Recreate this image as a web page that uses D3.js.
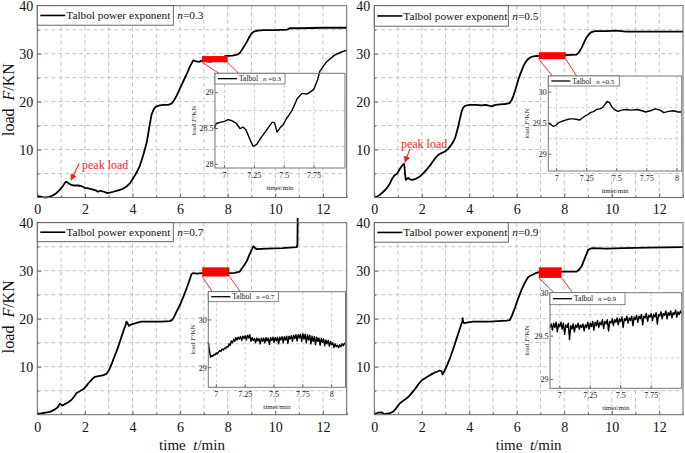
<!DOCTYPE html>
<html><head><meta charset="utf-8">
<script src="https://cdn.jsdelivr.net/npm/d3@7"></script>
<style>
body{margin:0;background:#fff}
svg{display:block}
text{font-family:"Liberation Serif","Times New Roman",serif}
</style>
</head><body>
<svg id="c" width="685" height="453"></svg>
<script>
// ---------------- DATA ----------------
const exponents = ["0.3", "0.5", "0.7", "0.9"];
const xTicks = [0, 2, 4, 6, 8, 10, 12];
const xMinor = [1, 3, 5, 7, 9, 11, 13];
const yTicks = [10, 20, 30, 40];
const yMinor = [5, 15, 25, 35];

// main curves (time / min, load / kN)
const main03T = [0,0.15,0.3,0.45,0.6,0.75,0.9,1.05,1.15,1.22,1.3,1.4,1.55,1.7,1.85,2.0,2.15,2.3,2.45,2.55,2.65,2.8,2.95,3.05,3.2,3.4,3.6,3.75,3.9,4.0,4.15,4.3,4.45,4.6,4.7,4.8,4.9,5.0,5.15,5.3,5.5,5.65,5.75,5.85,6.0,6.15,6.3,6.42,6.55,6.62,6.7,6.8,6.92,7.05,7.2,7.3,7.45,7.6,7.75,7.9,8.0,8.2,8.4,8.5,8.6,8.7,8.8,8.9,9.0,9.1,9.25,9.5,10.0,10.5,10.6,11.0,12.0,13.0];
const main03F = [0.3,0.2,0.0,0.05,0.3,0.7,1.4,2.2,3.0,3.3,3.0,2.7,2.5,2.5,2.4,2.0,1.9,1.7,1.5,1.2,1.4,1.2,0.9,1.0,1.2,1.5,1.8,2.3,3.0,3.8,5.0,6.5,8.8,11.5,14.5,17.3,18.5,19.0,19.2,19.3,19.3,19.6,20.3,21.2,22.8,24.4,26.0,27.4,28.6,28.5,28.4,28.3,28.55,28.6,28.35,28.35,28.5,28.9,29.1,29.5,29.55,29.6,29.8,30.1,30.8,31.6,32.4,33.4,34.2,34.6,34.8,34.9,34.9,35.0,35.3,35.3,35.4,35.4];

const main05T = [0,0.12,0.24,0.38,0.52,0.63,0.73,0.8,0.87,0.95,1.0,1.08,1.15,1.22,1.26,1.28,1.3,1.33,1.38,1.43,1.5,1.6,1.75,1.92,2.05,2.2,2.35,2.48,2.6,2.7,2.85,2.98,3.1,3.2,3.3,3.4,3.47,3.54,3.61,3.68,3.75,3.82,4.0,4.3,4.5,4.7,4.94,5.1,5.3,5.5,5.7,5.78,5.86,5.96,6.06,6.16,6.27,6.38,6.48,6.6,6.7,6.85,6.95,7.4,8.0,8.3,8.52,8.62,8.73,8.85,8.94,9.05,9.15,9.3,9.8,10.2,10.6,11.5,13.0];
const main05F = [0,0.2,0.6,1.2,1.9,2.7,3.7,4.3,4.7,4.9,5.3,6.0,6.5,6.9,7.0,6.0,4.6,3.7,3.9,4.1,3.8,3.7,3.9,4.4,5.0,5.8,6.7,7.6,8.4,8.9,9.3,9.6,10.1,10.7,11.4,12.4,13.6,14.9,16.5,18.0,18.8,19.1,19.3,19.3,19.2,19.3,19.0,19.3,19.4,19.5,19.7,20.3,21.2,22.8,24.5,25.9,27.3,28.3,28.9,29.3,29.45,29.55,29.5,29.8,29.7,29.75,29.8,30.3,31.2,32.5,33.4,34.1,34.5,34.7,34.7,34.8,34.6,34.6,34.6];

const main07T = [0,0.18,0.35,0.53,0.7,0.85,0.95,1.0,1.06,1.15,1.23,1.33,1.44,1.55,1.65,1.78,1.93,2.05,2.14,2.25,2.35,2.42,2.52,2.63,2.75,2.9,3.0,3.05,3.15,3.25,3.33,3.43,3.52,3.61,3.7,3.75,3.8,3.85,3.9,4.03,4.2,4.38,4.6,4.87,5.2,5.57,5.68,5.78,5.88,6.0,6.13,6.27,6.38,6.48,6.55,6.7,6.93,7.5,8.1,8.3,8.5,8.6,8.7,8.8,8.9,9.0,9.08,9.15,9.22,9.64,10.3,10.9,10.93,10.94];
const main07F = [0.1,0.3,0.45,0.6,1.0,1.5,2.3,2.1,1.9,2.2,2.4,2.7,3.1,3.8,4.5,4.9,5.3,5.9,6.5,7.1,7.6,7.9,8.0,8.1,8.2,8.5,9.2,9.7,10.9,12.2,13.2,14.6,16.0,17.3,18.6,19.4,19.0,18.5,18.7,18.9,19.2,19.4,19.4,19.4,19.4,19.5,19.8,20.7,21.8,22.9,24.5,26.3,27.8,29.3,29.5,29.4,29.5,29.55,29.5,29.55,29.8,30.5,31.2,32.0,33.2,34.3,35.1,34.7,34.5,34.6,34.7,34.9,35.5,41.0];

const main09T = [0,0.1,0.17,0.31,0.4,0.45,0.55,0.66,0.78,0.87,0.97,1.08,1.22,1.36,1.47,1.57,1.68,1.78,1.88,1.99,2.1,2.27,2.4,2.55,2.66,2.76,2.83,2.88,2.93,2.98,3.08,3.19,3.33,3.47,3.58,3.68,3.71,3.72,3.74,3.78,4.0,4.17,4.5,4.87,5.2,5.57,5.71,5.8,5.92,6.05,6.2,6.34,6.48,6.6,6.69,6.8,6.93,7.5,7.9,8.2,8.52,8.62,8.73,8.85,9.0,9.1,9.22,9.78,10.48,11.5,13.0];
const main09F = [0.05,0.3,0.45,0.5,0.2,0.1,0.2,0.3,0.6,1.0,1.7,2.4,2.9,3.4,3.9,4.5,5.1,5.8,6.5,7.1,7.5,8.0,8.4,8.8,9.0,9.2,9.1,8.4,8.9,9.4,10.5,11.8,13.8,15.9,17.6,19.1,19.4,20.1,19.3,19.1,19.3,19.4,19.4,19.4,19.5,19.6,19.7,20.7,22.2,24.1,26.0,27.5,28.7,29.0,29.2,29.5,29.7,29.75,29.8,29.8,29.8,30.2,30.9,32.4,34.3,34.6,34.7,34.6,34.7,34.8,34.9];

// zoomed windows (inset curves)
const ins03T = [6.915,6.93,6.97,7.0,7.03,7.06,7.1,7.13,7.155,7.18,7.21,7.24,7.27,7.3,7.34,7.37,7.4,7.42,7.44,7.47,7.49,7.52,7.565,7.61,7.65,7.69,7.72,7.75,7.78,7.8,7.85,7.92,7.97,8.02];
const ins03F = [28.5,28.57,28.59,28.6,28.625,28.61,28.57,28.5,28.52,28.48,28.36,28.25,28.28,28.36,28.45,28.52,28.59,28.58,28.45,28.52,28.55,28.64,28.75,28.92,28.99,28.98,29.01,29.05,29.18,29.3,29.42,29.52,29.56,29.59];

const ins05T = [6.93,6.95,6.97,6.99,7.01,7.03,7.06,7.09,7.11,7.14,7.17,7.19,7.21,7.24,7.26,7.28,7.31,7.33,7.36,7.38,7.4,7.42,7.44,7.46,7.48,7.51,7.54,7.58,7.62,7.67,7.71,7.74,7.78,7.82,7.86,7.89,7.93,7.97,8.01,8.04];
const ins05F = [29.5,29.48,29.45,29.46,29.5,29.52,29.54,29.56,29.57,29.57,29.56,29.55,29.58,29.62,29.64,29.67,29.69,29.72,29.73,29.75,29.8,29.85,29.83,29.76,29.72,29.69,29.71,29.72,29.71,29.72,29.7,29.68,29.7,29.73,29.71,29.67,29.69,29.7,29.68,29.68];

const ins07T = [6.93,6.94,6.95,6.96,6.97,6.98,6.99,7.0,7.01,7.02,7.03,7.04,7.05,7.06,7.07,7.08,7.09,7.1,7.11,7.12,7.13,7.14,7.15,7.16,7.17,7.18,7.19,7.2,7.21,7.22,7.23,7.24,7.25,7.26,7.27,7.28,7.29,7.3,7.31,7.32,7.33,7.34,7.35,7.36,7.37,7.38,7.39,7.4,7.41,7.42,7.43,7.44,7.45,7.46,7.47,7.48,7.49,7.5,7.51,7.52,7.53,7.54,7.55,7.56,7.57,7.58,7.59,7.6,7.61,7.62,7.63,7.64,7.65,7.66,7.67,7.68,7.69,7.7,7.71,7.72,7.73,7.74,7.75,7.76,7.77,7.78,7.79,7.8,7.81,7.82,7.83,7.84,7.85,7.86,7.87,7.88,7.89,7.9,7.91,7.92,7.93,7.94,7.95,7.96,7.97,7.98,7.99,8.0,8.01,8.02,8.03,8.04,8.05,8.06,8.07,8.08,8.09,8.1,8.11,8.12];
const ins07F = [29.53,29.35,29.22,29.25,29.24,29.28,29.27,29.31,29.29,29.33,29.36,29.34,29.39,29.37,29.41,29.40,29.44,29.43,29.50,29.47,29.56,29.52,29.60,29.55,29.63,29.58,29.64,29.60,29.65,29.57,29.66,29.61,29.67,29.58,29.68,29.62,29.69,29.55,29.63,29.57,29.61,29.52,29.62,29.56,29.61,29.50,29.62,29.55,29.62,29.52,29.63,29.56,29.62,29.49,29.63,29.57,29.64,29.53,29.63,29.56,29.64,29.50,29.64,29.58,29.65,29.52,29.65,29.58,29.66,29.51,29.66,29.60,29.67,29.55,29.68,29.61,29.69,29.56,29.69,29.62,29.70,29.55,29.71,29.60,29.70,29.52,29.69,29.58,29.68,29.50,29.66,29.55,29.65,29.48,29.64,29.55,29.62,29.47,29.61,29.53,29.60,29.46,29.58,29.50,29.57,29.45,29.55,29.48,29.52,29.42,29.50,29.44,29.47,29.42,29.48,29.44,29.50,29.46,29.51,29.49];

const ins09T = [6.92,6.93,6.94,6.95,6.96,6.97,6.98,6.99,7.0,7.01,7.02,7.03,7.04,7.05,7.06,7.07,7.08,7.09,7.1,7.11,7.12,7.13,7.14,7.15,7.16,7.17,7.18,7.19,7.2,7.21,7.22,7.23,7.24,7.25,7.26,7.27,7.28,7.29,7.3,7.31,7.32,7.33,7.34,7.35,7.36,7.37,7.38,7.39,7.4,7.41,7.42,7.43,7.44,7.45,7.46,7.47,7.48,7.49,7.5,7.51,7.52,7.53,7.54,7.55,7.56,7.57,7.58,7.59,7.6,7.61,7.62,7.63,7.64,7.65,7.66,7.67,7.68,7.69,7.7,7.71,7.72,7.73,7.74,7.75,7.76,7.77,7.78,7.79,7.8,7.81,7.82,7.83,7.84,7.85,7.86,7.87,7.88,7.89,7.9,7.91,7.92,7.93,7.94,7.95,7.96,7.97,7.98,7.99,8.0];
const ins09F = [29.60,29.64,29.57,29.65,29.60,29.66,29.55,29.64,29.61,29.66,29.58,29.65,29.52,29.63,29.60,29.65,29.46,29.62,29.58,29.64,29.55,29.63,29.60,29.65,29.58,29.63,29.60,29.64,29.56,29.63,29.60,29.66,29.58,29.65,29.61,29.67,29.57,29.66,29.62,29.68,29.60,29.66,29.63,29.69,29.59,29.67,29.64,29.69,29.56,29.67,29.65,29.70,29.62,29.69,29.66,29.71,29.63,29.70,29.67,29.72,29.60,29.70,29.68,29.73,29.65,29.71,29.68,29.73,29.62,29.72,29.69,29.74,29.66,29.73,29.70,29.75,29.63,29.73,29.71,29.76,29.67,29.74,29.72,29.76,29.68,29.75,29.72,29.77,29.64,29.75,29.73,29.78,29.70,29.76,29.74,29.79,29.70,29.77,29.74,29.79,29.71,29.77,29.75,29.80,29.72,29.78,29.75,29.79,29.76];

// zoom window rectangles [t0, t1, F0, F1]
const zoomWindows = [[6.92, 8.0, 28.2, 29.5], [6.93, 8.06, 28.85, 30.3], [6.93, 8.07, 28.8, 30.7], [6.93, 7.89, 28.5, 30.7]];
// inset axes domains and ticks
const insetXDomain = [[6.92, 8.01], [6.93, 8.04], [6.93, 8.12], [6.92, 8.0]];
const insetYDomain = [[27.95, 29.27], [28.73, 30.26], [28.59, 30.59], [28.9, 30.0]];
const insetXTicks = [[7, 7.25, 7.5, 7.75], [7, 7.25, 7.5, 7.75, 8], [7, 7.25, 7.5, 7.75, 8], [7, 7.25, 7.5, 7.75]];
const insetYTicks = [[28, 28.5, 29], [29, 29.5, 30], [29, 30], [29, 29.5, 30]];
const insetYGrid = [[28.25, 28.75], [29.25, 29.75], [29.5], [29.25, 29.75]];
// peak load annotation [textT, textF, arrowFromT, arrowFromF, arrowToT, arrowToF]
const peakNotes = [[1.88, 5.95, 1.76, 7.1, 1.42, 3.65], [1.12, 10.3, 1.5, 10.1, 1.29, 7.35], null, null];

const mains = [[main03T, main03F], [main05T, main05F], [main07T, main07F], [main09T, main09F]];
const insets = [[ins03T, ins03F], [ins05T, ins05F], [ins07T, ins07F], [ins09T, ins09F]];

// ---------------- LAYOUT ----------------
const layout = [
  {x0: 37.3, x1: 346.7, y0: 5.7, y1: 197.5, ix0: 215, ix1: 345, iy0: 73.3, iy1: 168, legW: 136, legH: 19.5, ylab: true, xlab: false, iyOff: 19, ilegW: 70, ilegH: 10.7},
  {x0: 374.3, x1: 683, y0: 5.7, y1: 197.5, ix0: 548.3, ix1: 681.7, iy0: 76, iy1: 171, legW: 134, legH: 20.5, ylab: false, xlab: false, iyOff: 19, ilegW: 71, ilegH: 10},
  {x0: 37.3, x1: 346.7, y0: 222.7, y1: 414.7, ix0: 208.3, ix1: 345.5, iy0: 291.7, iy1: 387.3, legW: 136, legH: 19, ylab: true, xlab: true, iyOff: 13, ilegW: 70, ilegH: 10},
  {x0: 374.3, x1: 683, y0: 222.7, y1: 414.7, ix0: 550, ix1: 681.7, iy0: 292.7, iy1: 388.3, legW: 134, legH: 19.5, ylab: false, xlab: true, iyOff: 21, ilegW: 75, ilegH: 12}
];

const svg = d3.select("#c");
const defs = svg.append("defs");
defs.append("marker").attr("id", "arr").attr("viewBox", "0 0 10 10").attr("refX", 9).attr("refY", 5)
  .attr("markerWidth", 6).attr("markerHeight", 6).attr("orient", "auto-start-reverse")
  .append("path").attr("d", "M0,0 L10,5 L0,10 z").attr("fill", "#ff1a1a");

const GRID = "#b5b5b5", FRAME = "#666";

function italicText(sel, parts) {
  parts.forEach(p => {
    const t = sel.append("tspan").text(p[0]);
    if (p[1]) t.attr("font-style", "italic");
  });
  return sel;
}

layout.forEach((c, i) => {
  const x = d3.scaleLinear().domain([0, 13]).range([c.x0, c.x1]);
  const y = d3.scaleLinear().domain([0, 40]).range([c.y1, c.y0]);
  const g = svg.append("g");

  // grid
  g.selectAll(".vg").data(d3.range(1, 13)).join("line")
    .attr("x1", d => x(d)).attr("x2", d => x(d)).attr("y1", c.y0).attr("y2", c.y1)
    .attr("stroke", GRID).attr("stroke-width", 0.8).attr("stroke-dasharray", "4,3");
  g.selectAll(".hg").data(d3.range(5, 40, 5)).join("line")
    .attr("x1", c.x0).attr("x2", c.x1).attr("y1", d => y(d)).attr("y2", d => y(d))
    .attr("stroke", GRID).attr("stroke-width", 0.8).attr("stroke-dasharray", "4,3");

  // axes
  const xa = g.append("g").attr("transform", `translate(0,${c.y1})`)
    .call(d3.axisBottom(x).tickValues(xTicks).tickSize(-4).tickPadding(7).tickFormat(d3.format("d")));
  g.append("g").attr("transform", `translate(0,${c.y1})`)
    .call(d3.axisBottom(x).tickValues(xMinor).tickSize(-2).tickFormat(""));
  const ya = g.append("g").attr("transform", `translate(${c.x0},0)`)
    .call(d3.axisLeft(y).tickValues(yTicks).tickSize(-4).tickPadding(4).tickFormat(d3.format("d")));
  g.append("g").attr("transform", `translate(${c.x0},0)`)
    .call(d3.axisLeft(y).tickValues(yMinor).tickSize(-2).tickFormat(""));
  g.selectAll(".domain").remove();
  g.selectAll(".tick line").attr("stroke", FRAME);
  g.selectAll(".tick text").attr("font-family", "Liberation Serif, serif").attr("font-size", 14).attr("fill", "#111");

  // main curve
  const line = d3.line().x(d => x(d[0])).y(d => y(d[1]));
  g.append("path").datum(d3.zip(mains[i][0], mains[i][1])).attr("d", line)
    .attr("fill", "none").attr("stroke", "#000").attr("stroke-width", 1.8).attr("stroke-linejoin", "round");

  // frame
  g.append("rect").attr("x", c.x0).attr("y", c.y0).attr("width", c.x1 - c.x0).attr("height", c.y1 - c.y0)
    .attr("fill", "none").attr("stroke", FRAME).attr("stroke-width", 1);

  // legend
  const lg = g.append("g");
  lg.append("rect").attr("x", c.x0).attr("y", c.y0).attr("width", c.legW).attr("height", c.legH)
    .attr("fill", "#fff").attr("stroke", "#555").attr("stroke-width", 0.9);
  lg.append("line").attr("x1", c.x0 + 3).attr("x2", c.x0 + 28).attr("y1", c.y0 + c.legH / 2).attr("y2", c.y0 + c.legH / 2)
    .attr("stroke", "#000").attr("stroke-width", 1.6);
  lg.append("text").attr("x", c.x0 + 29).attr("y", c.y0 + c.legH / 2 + 4).attr("font-size", 11.3).attr("fill", "#111")
    .text("Talbol power exponent");
  italicText(lg.append("text").attr("x", c.x0 + c.legW + 4).attr("y", c.y0 + c.legH / 2 + 4).attr("font-size", 11.3).attr("fill", "#111"),
    [["n", true], ["=" + exponents[i], false]]);

  // axis titles
  if (c.ylab) {
    const cy = (c.y0 + c.y1) / 2 - 2;
    italicText(g.append("text").attr("transform", `translate(14,${cy}) rotate(-90)`).attr("text-anchor", "middle")
      .attr("font-size", 16).attr("fill", "#111"), [["load\u00a0\u00a0", false], ["F", true], ["/KN", false]]);
  }
  if (c.xlab) {
    italicText(g.append("text").attr("x", (c.x0 + c.x1) / 2).attr("y", 450).attr("text-anchor", "middle")
      .attr("font-size", 15).attr("fill", "#111"), [["time\u00a0\u00a0", false], ["t", true], ["/min", false]]);
  }

  // peak annotation
  const pn = peakNotes[i];
  if (pn) {
    g.append("text").attr("x", x(pn[0])).attr("y", y(pn[1])).attr("font-size", 12).attr("fill", "#ff2020").text("peak load");
    g.append("line").attr("x1", x(pn[2])).attr("y1", y(pn[3])).attr("x2", x(pn[4])).attr("y2", y(pn[5]))
      .attr("stroke", "#ff1a1a").attr("stroke-width", 1.1).attr("marker-end", "url(#arr)");
  }

  // zoom window + connectors
  const zw = zoomWindows[i];
  g.append("rect").attr("x", x(zw[0])).attr("y", y(zw[3])).attr("width", x(zw[1]) - x(zw[0])).attr("height", y(zw[2]) - y(zw[3]))
    .attr("fill", "#ff0000");
  g.append("line").attr("x1", x(zw[0])).attr("y1", y(zw[2])).attr("x2", c.ix0 + 4).attr("y2", c.iy0)
    .attr("stroke", "#ff2a2a").attr("stroke-width", 1);
  g.append("line").attr("x1", x(zw[1])).attr("y1", y(zw[2])).attr("x2", x(zw[1]) + 11).attr("y2", c.iy0)
    .attr("stroke", "#ff2a2a").attr("stroke-width", 1);

  // inset
  const ix = d3.scaleLinear().domain(insetXDomain[i]).range([c.ix0, c.ix1]);
  const iy = d3.scaleLinear().domain(insetYDomain[i]).range([c.iy1, c.iy0]);
  const ig = g.append("g");
  ig.append("rect").attr("x", c.ix0).attr("y", c.iy0).attr("width", c.ix1 - c.ix0).attr("height", c.iy1 - c.iy0)
    .attr("fill", "#fff");
  ig.selectAll(".ivg").data(insetXTicks[i]).join("line")
    .attr("x1", d => ix(d)).attr("x2", d => ix(d)).attr("y1", c.iy0).attr("y2", c.iy1)
    .attr("stroke", GRID).attr("stroke-width", 0.7).attr("stroke-dasharray", "3,2.5");
  ig.selectAll(".ihg").data(insetYGrid[i]).join("line")
    .attr("x1", c.ix0).attr("x2", c.ix1).attr("y1", d => iy(d)).attr("y2", d => iy(d))
    .attr("stroke", GRID).attr("stroke-width", 0.7).attr("stroke-dasharray", "3,2.5");
  // inset ticks
  ig.selectAll(".ixt").data(insetXTicks[i]).join("line")
    .attr("x1", d => ix(d)).attr("x2", d => ix(d)).attr("y1", c.iy1).attr("y2", c.iy1 - 3).attr("stroke", FRAME);
  ig.selectAll(".iyt").data(insetYTicks[i]).join("line")
    .attr("x1", c.ix0).attr("x2", c.ix0 + 3).attr("y1", d => iy(d)).attr("y2", d => iy(d)).attr("stroke", FRAME);
  ig.selectAll(".ixl").data(insetXTicks[i]).join("text")
    .attr("x", d => ix(d)).attr("y", c.iy1 + 10).attr("text-anchor", "middle").attr("font-size", 8).attr("fill", "#222")
    .text(d => d);
  ig.selectAll(".iyl").data(insetYTicks[i]).join("text")
    .attr("x", c.ix0 - 1.5).attr("y", d => iy(d) + 2.8).attr("text-anchor", "end").attr("font-size", 8).attr("fill", "#222")
    .text(d => d);
  // inset curve
  const iline = d3.line().x(d => ix(d[0])).y(d => iy(d[1]));
  ig.append("path").datum(d3.zip(insets[i][0], insets[i][1])).attr("d", iline)
    .attr("fill", "none").attr("stroke", "#000").attr("stroke-width", 1.4).attr("stroke-linejoin", "round");
  // inset frame
  ig.append("rect").attr("x", c.ix0).attr("y", c.iy0).attr("width", c.ix1 - c.ix0).attr("height", c.iy1 - c.iy0)
    .attr("fill", "none").attr("stroke", "#777").attr("stroke-width", 1);
  // inset legend
  ig.append("rect").attr("x", c.ix0).attr("y", c.iy0).attr("width", c.ilegW).attr("height", c.ilegH)
    .attr("fill", "#fff").attr("stroke", "#666").attr("stroke-width", 0.8);
  ig.append("line").attr("x1", c.ix0 + 3).attr("x2", c.ix0 + 22).attr("y1", c.iy0 + c.ilegH / 2).attr("y2", c.iy0 + c.ilegH / 2)
    .attr("stroke", "#000").attr("stroke-width", 1.3);
  ig.append("text").attr("x", c.ix0 + 24).attr("y", c.iy0 + c.ilegH / 2 + 2.7).attr("font-size", 7.5).attr("fill", "#111").text("Talbol");
  italicText(ig.append("text").attr("x", c.ix0 + 48).attr("y", c.iy0 + c.ilegH / 2 + 2.7).attr("font-size", 7).attr("fill", "#111"),
    [["n", true], ["\u00a0=" + exponents[i], false]]);
  // inset axis titles
  italicText(ig.append("text").attr("transform", `translate(${c.ix0 - c.iyOff},${(c.iy0 + c.iy1) / 2}) rotate(-90)`)
    .attr("text-anchor", "middle").attr("font-size", 7).attr("fill", "#222"), [["load\u00a0", false], ["F", true], ["/KN", false]]);
  italicText(ig.append("text").attr("x", (c.ix0 + c.ix1) / 2).attr("y", c.iy1 + 22).attr("text-anchor", "middle")
    .attr("font-size", 7).attr("fill", "#222"), [["time", false], ["t", true], ["/min", false]]);
});
</script>
</body></html>
